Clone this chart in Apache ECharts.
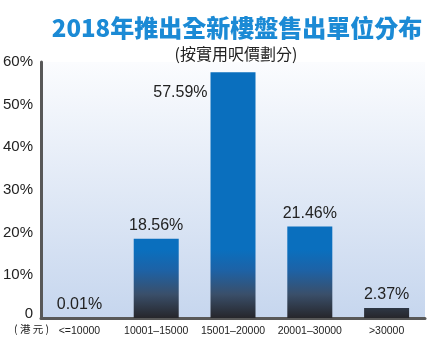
<!DOCTYPE html>
<html>
<head>
<meta charset="utf-8">
<script src="https://cdn.jsdelivr.net/npm/echarts@6/dist/echarts.min.js"></script>
<style>
  html, body { margin: 0; padding: 0; background: #ffffff; }
  #chart { width: 430px; height: 341px; }
</style>
</head>
<body>
<div id="chart"></div>
<script>
// Price bands (HK$ per sq ft, saleable area) and share of units sold
const categories = ['<=10000', '10001\u201315000', '15001\u201320000', '20001\u201330000', '>30000'];
const shares = [0.01, 18.56, 57.59, 21.46, 2.37];
const yTicks = [0, 10, 20, 30, 40, 50, 60];

const chart = echarts.init(document.getElementById('chart'));

const barFill = new echarts.graphic.LinearGradient(0, 250, 0, 318, [
  { offset: 0, color: '#0a6fbe' },
  { offset: 0.3, color: '#1d62a6' },
  { offset: 0.65, color: '#3a4f6a' },
  { offset: 1, color: '#26262b' }
], true);

chart.setOption({
  animation: false,
  title: [
    {
      text: '2018年推出全新樓盤售出單位分布',
      left: 232, top: 11, textAlign: 'center',
      textStyle: { fontFamily: 'Noto Sans CJK TC', fontSize: 24, fontWeight: 900, color: '#1b8ad5' }
    },
    {
      text: '(按實用呎價劃分)',
      left: 231, top: 41, textAlign: 'center',
      textStyle: { fontFamily: 'Noto Sans CJK TC', fontSize: 16, fontWeight: 'normal', color: '#222' }
    }
  ],
  grid: {
    left: 41, right: 5, top: 62, bottom: 23,
    show: true, borderWidth: 0,
    backgroundColor: new echarts.graphic.LinearGradient(0, 0, 0, 1, [
      { offset: 0, color: '#fbfcfe' },
      { offset: 1, color: '#c6d6ee' }
    ])
  },
  xAxis: {
    type: 'category',
    data: categories,
    axisLine: { lineStyle: { color: '#585858', width: 3 } },
    axisTick: { show: false },
    axisLabel: { color: '#222', fontFamily: 'Liberation Sans', fontSize: 10.5, margin: 8, interval: 0 }
  },
  yAxis: {
    type: 'value',
    min: yTicks[0], max: yTicks[yTicks.length - 1], interval: 10,
    axisLine: { show: true, lineStyle: { color: '#585858', width: 3 } },
    axisTick: { show: false },
    splitLine: { show: false },
    axisLabel: {
      color: '#222', fontFamily: 'Liberation Sans', fontSize: 15, margin: 8,
      formatter: v => v === 0 ? '{z|0}' : v + '%',
      rich: { z: { fontFamily: 'Liberation Sans', fontSize: 15, color: '#222', padding: [0, 0, 8, 0] } }
    }
  },
  series: [{
    type: 'bar',
    data: shares.map((v, i) => {
      const item = { value: v };
      if (i === 2) {
        item.label = { position: [-3, 20], align: 'right', verticalAlign: 'middle' };
      }
      return item;
    }),
    barWidth: 45,
    itemStyle: { color: barFill },
    label: {
      show: true, position: 'top', distance: 5,
      color: '#222', fontFamily: 'Liberation Sans', fontSize: 16,
      formatter: p => p.value.toFixed(2) + '%'
    }
  }],
  graphic: [{
    type: 'text', left: 14, top: 324,
    style: { text: '( 港 元 )', fontFamily: 'Noto Sans CJK TC', fontSize: 10.5, fill: '#222' }
  }]
});
</script>
</body>
</html>
